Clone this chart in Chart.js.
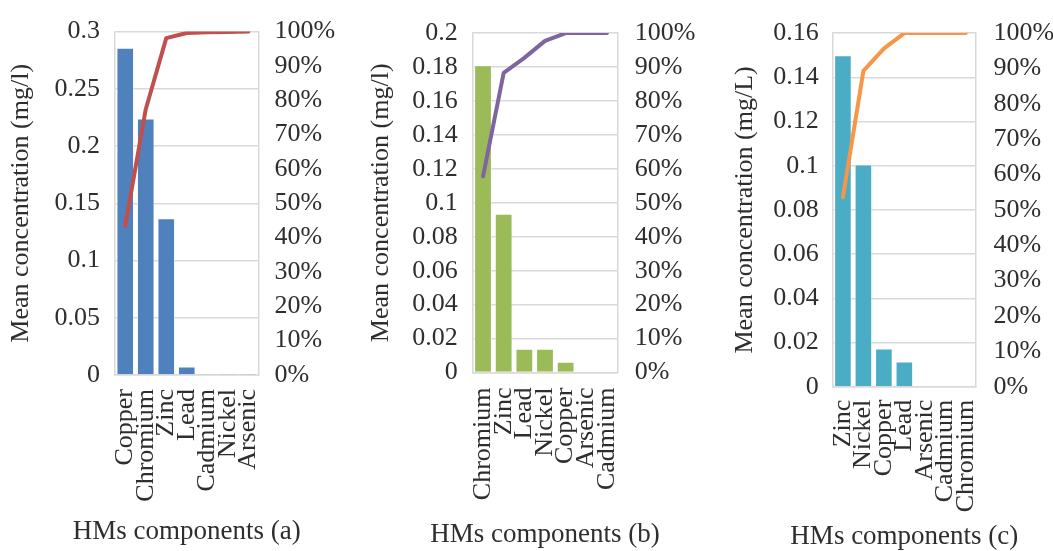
<!DOCTYPE html>
<html>
<head>
<meta charset="utf-8">
<script src="https://cdn.jsdelivr.net/npm/chart.js@4.4.1/dist/chart.umd.min.js"></script>
<style>
  html, body { margin: 0; padding: 0; background: #ffffff; }
  #wrap { position: relative; width: 1053px; height: 551px; overflow: hidden; background: #ffffff; }
  #wrap canvas { position: absolute; top: 0; }
</style>
</head>
<body>
<div id="wrap">
  <canvas id="paretoA" width="351" height="551" style="left:0px"></canvas>
  <canvas id="paretoB" width="351" height="551" style="left:351px"></canvas>
  <canvas id="paretoC" width="351" height="551" style="left:702px"></canvas>
</div>
<script>
// ---- Panel (a) ----
const metalsA = ['Copper', 'Chromium', 'Zinc', 'Lead', 'Cadmium', 'Nickel', 'Arsenic'];
const concA = [0.286, 0.224, 0.137, 0.0075, 0.0004, 0.0002, 0.0001];
const cumPctA = [43.4, 77.4, 98.1, 99.6, 99.8, 99.9, 100];
const concTicksA = [0, 0.05, 0.1, 0.15, 0.2, 0.25, 0.3];

// ---- Panel (b) ----
const metalsB = ['Chromium', 'Zinc', 'Lead', 'Nickel', 'Copper', 'Arsenic', 'Cadmium'];
const concB = [0.181, 0.0935, 0.014, 0.014, 0.0064, 0, 0];
const cumPctB = [57.8, 88.3, 92.7, 97.7, 100, 100, 100];
const concTicksB = [0, 0.02, 0.04, 0.06, 0.08, 0.1, 0.12, 0.14, 0.16, 0.18, 0.2];

// ---- Panel (c) ----
const metalsC = ['Zinc', 'Nickel', 'Copper', 'Lead', 'Arsenic', 'Cadmium', 'Chromium'];
const concC = [0.150, 0.1005, 0.0173, 0.0114, 0, 0, 0];
const cumPctC = [53.6, 89.3, 95.6, 100, 100, 100, 100];
const concTicksC = [0, 0.02, 0.04, 0.06, 0.08, 0.1, 0.12, 0.14, 0.16];

// Cumulative percentage axis, shared by all panels
const pctTicks = [0, 10, 20, 30, 40, 50, 60, 70, 80, 90, 100];

const SERIF = "'Liberation Serif', 'Times New Roman', Times, serif";
const TEXT = '#2e2e2e';
const GRID = '#d9d9d9';

// Category-axis caption, centred under the plot and allowed to run wider than it
const bottomCaption = {
  id: 'bottomCaption',
  afterDraw(chart, args, opts) {
    const { ctx, chartArea } = chart;
    ctx.save();
    ctx.font = '27px ' + SERIF;
    ctx.fillStyle = TEXT;
    ctx.textAlign = 'center';
    ctx.textBaseline = 'middle';
    ctx.fillText(opts.text, (chartArea.left + chartArea.right) / 2, opts.y);
    ctx.restore();
  }
};

function paretoChart(canvasId, d, look) {
  const el = document.getElementById(canvasId);
  const W = el.width, H = el.height;
  const tickFont = { family: SERIF, size: 26 };
  return new Chart(el, {
    data: {
      labels: d.labels,
      datasets: [
        {
          type: 'line',
          data: d.cum,
          yAxisID: 'yPct',
          borderColor: look.line,
          borderWidth: 4,
          pointRadius: 0,
          pointHoverRadius: 0,
          tension: 0,
          borderCapStyle: 'round',
          borderJoinStyle: 'round',
          order: 0
        },
        {
          type: 'bar',
          data: d.values,
          yAxisID: 'yConc',
          backgroundColor: look.bar,
          borderColor: 'rgba(255,255,255,0.5)',
          borderWidth: 1,
          barPercentage: 1,
          categoryPercentage: 0.86,
          order: 1
        }
      ]
    },
    plugins: [bottomCaption],
    options: {
      responsive: false,
      animation: false,
      devicePixelRatio: 1,
      layout: { padding: { top: look.top, left: 0, right: 0, bottom: 0 } },
      plugins: {
        legend: { display: false },
        tooltip: { enabled: false },
        bottomCaption: { text: d.xTitle, y: look.xTitleY }
      },
      scales: {
        x: {
          type: 'category',
          offset: true,
          grid: { display: false, drawTicks: false },
          border: { display: true, color: GRID, width: 1.5 },
          ticks: {
            autoSkip: false, minRotation: 90, maxRotation: 90,
            padding: look.xLabelPad, font: tickFont, color: TEXT
          },
          afterFit(s) { s.height = H - look.bottom; }
        },
        yConc: {
          type: 'linear',
          position: 'left',
          min: 0,
          max: d.max,
          afterBuildTicks(s) { s.ticks = d.ticks.map(v => ({ value: v })); },
          ticks: { autoSkip: false, padding: look.leftPad, font: tickFont, color: TEXT, callback: v => String(v) },
          grid: { color: GRID, lineWidth: 1.5, drawTicks: false },
          border: { display: true, color: GRID, width: 1.5 },
          title: {
            display: true, text: d.yTitle, color: TEXT,
            font: { family: SERIF, size: 26 },
            padding: { top: look.yTitleX - 15.6, bottom: 0 }
          },
          afterFit(s) { s.width = look.left; }
        },
        yPct: {
          type: 'linear',
          position: 'right',
          min: 0,
          max: 100,
          afterBuildTicks(s) { s.ticks = pctTicks.map(v => ({ value: v })); },
          ticks: { autoSkip: false, padding: look.rightPad, font: tickFont, color: TEXT, callback: v => v + '%' },
          grid: { display: false, drawTicks: false },
          border: { display: true, color: GRID, width: 1.5 },
          afterFit(s) { s.width = W - look.right; }
        }
      }
    }
  });
}

paretoChart('paretoA',
  { labels: metalsA, values: concA, cum: cumPctA, ticks: concTicksA, max: 0.3,
    yTitle: 'Mean concentration (mg/l)', xTitle: 'HMs components (a)' },
  { bar: '#4f81bd', line: '#c0504d',
    left: 115, right: 258.5, top: 25, bottom: 375,
    leftPad: 15, rightPad: 16, xLabelPad: 14, yTitleX: 21, xTitleY: 532 });

paretoChart('paretoB',
  { labels: metalsB, values: concB, cum: cumPctB, ticks: concTicksB, max: 0.2,
    yTitle: 'Mean concentration (mg/l)', xTitle: 'HMs components (b)' },
  { bar: '#9bbb59', line: '#8064a2',
    left: 121.7, right: 266.3, top: 25, bottom: 372.5,
    leftPad: 15, rightPad: 17.5, xLabelPad: 15, yTitleX: 30, xTitleY: 534.5 });

paretoChart('paretoC',
  { labels: metalsC, values: concC, cum: cumPctC, ticks: concTicksC, max: 0.16,
    yTitle: 'Mean concentration (mg/L)', xTitle: 'HMs components (c)' },
  { bar: '#4bacc6', line: '#f79646',
    left: 130.7, right: 274, top: 24, bottom: 386.7,
    leftPad: 14, rightPad: 17.5, xLabelPad: 13, yTitleX: 43.5, xTitleY: 536.5 });
</script>
</body>
</html>
